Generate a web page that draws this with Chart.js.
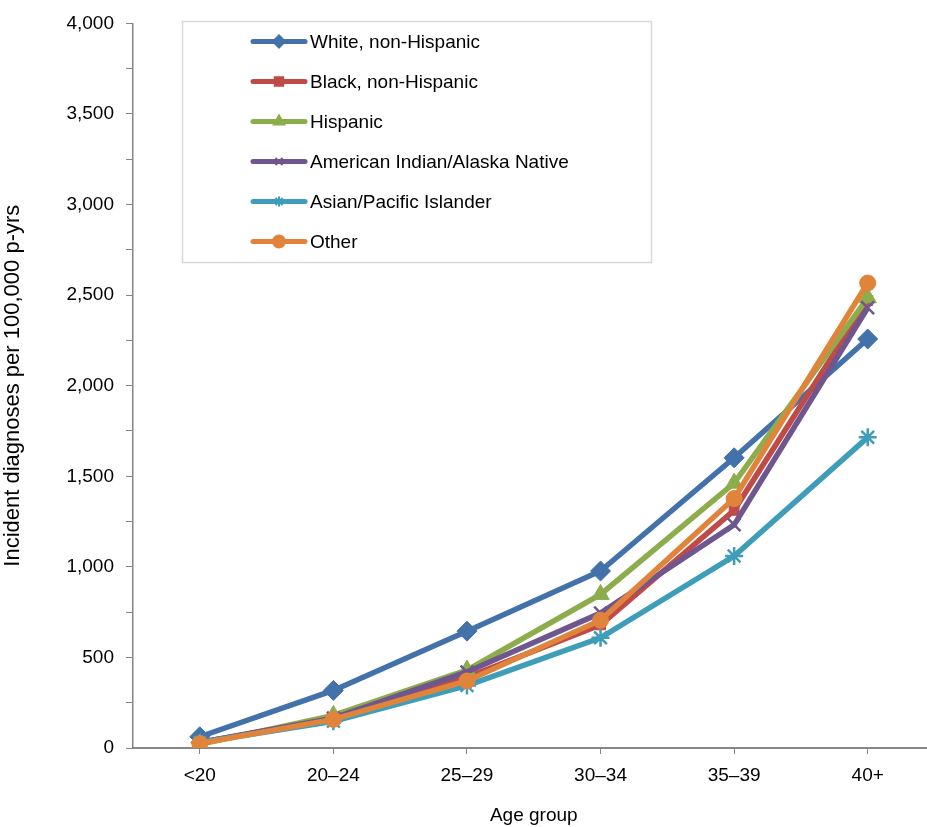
<!DOCTYPE html>
<html>
<head>
<meta charset="utf-8">
<script src="https://cdn.jsdelivr.net/npm/chart.js@4.4.0/dist/chart.umd.min.js"></script>
<style>
  html, body { margin: 0; padding: 0; overflow: hidden; background: #fff; }
  #wrap { width: 946px; height: 827px; }
</style>
</head>
<body>
<div id="wrap"><canvas id="myChart" width="946" height="827"></canvas></div>
<script>
'use strict';

let ageGroups = ['<20', '20–24', '25–29', '30–34', '35–39', '40+'];
let seriesNames = ['White, non-Hispanic', 'Black, non-Hispanic', 'Hispanic', 'American Indian/Alaska Native', 'Asian/Pacific Islander', 'Other'];

let white = [62, 318, 645, 977, 1602, 2258];
let black = [30, 160, 390, 680, 1312, 2470];
let hispanic = [20, 180, 430, 848, 1462, 2485];
let aian = [30, 165, 420, 745, 1232, 2430];
let api = [30, 148, 345, 608, 1060, 1715];
let other = [25, 158, 370, 705, 1377, 2567];

let yMin = 0;
let yMax = 4000;
let yStep = 250;

let colors = ['#4371A9', '#BE4B48', '#8DAC4B', '#70568F', '#3E9DB8', '#E1843B'];
let markers = ['rectRot', 'rect', 'triangle', 'crossRot', 'star', 'circle'];
let markerSize = [10, 7, 10, 9, 9, 8];
let legendMarkerSize = [6, 6, 6, 5, 5, 6];

let allSeries = [white, black, hispanic, aian, api, other];
let fontName = '"Liberation Sans", Arial, sans-serif';

let datasets = [];
for (let i = 0; i < allSeries.length; i++) {
    datasets.push({
        label: seriesNames[i],
        data: allSeries[i],
        borderColor: colors[i],
        backgroundColor: colors[i],
        borderWidth: 5.5,
        pointStyle: markers[i],
        pointRadius: markerSize[i],
        pointHoverRadius: markerSize[i],
        pointBorderWidth: (markers[i] === 'crossRot' || markers[i] === 'star') ? 2.5 : 1,
        tension: 0,
        order: allSeries.length - i
    });
}

// legend in a box, drawn by hand so line + marker samples look like the original
let boxLegend = {
    id: 'boxLegend',
    afterDraw(chart) {
        let ctx = chart.ctx;
        ctx.save();
        ctx.fillStyle = '#fff';
        ctx.fillRect(182, 21, 470, 242);
        ctx.strokeStyle = '#d9d9d9';
        ctx.lineWidth = 1.5;
        ctx.strokeRect(182.5, 21.5, 469, 241);
        chart.data.datasets.forEach((ds, i) => {
            let y = 41.5 + i * 40;
            ctx.strokeStyle = ds.borderColor;
            ctx.lineWidth = 5;
            ctx.lineCap = 'round';
            ctx.beginPath();
            ctx.moveTo(253, y);
            ctx.lineTo(305, y);
            ctx.stroke();
            ctx.fillStyle = ds.backgroundColor;
            ctx.lineWidth = 2;
            ctx.lineCap = 'butt';
            Chart.helpers.drawPoint(ctx, {
                pointStyle: ds.pointStyle,
                radius: legendMarkerSize[i],
                borderWidth: 2,
                rotation: 0
            }, 279, y);
            ctx.fillStyle = '#000';
            ctx.font = '19px ' + fontName;
            ctx.textBaseline = 'middle';
            ctx.textAlign = 'left';
            ctx.fillText(ds.label, 310, y + 1);
        });
        ctx.restore();
    }
};

let ctx = document.getElementById('myChart').getContext('2d');
let myChart = new Chart(ctx, {
    type: 'line',
    data: {
        labels: ageGroups,
        datasets: datasets
    },
    plugins: [boxLegend],
    options: {
        responsive: false,
        animation: false,
        layout: { padding: { top: 19, right: 2, left: 0, bottom: 0 } },
        plugins: {
            legend: { display: false },
            tooltip: { enabled: false }
        },
        scales: {
            x: {
                offset: true,
                grid: {
                    display: true,
                    offset: false,
                    drawOnChartArea: false,
                    drawTicks: true,
                    tickLength: 6,
                    color: '#868686'
                },
                border: { display: true, color: '#868686', width: 2 },
                ticks: {
                    color: '#000',
                    font: { family: fontName, size: 19 },
                    padding: 10,
                    maxRotation: 0
                },
                title: {
                    display: true,
                    text: 'Age group',
                    color: '#000',
                    font: { family: fontName, size: 19 },
                    padding: { top: 5, bottom: 0 }
                },
                afterFit(scale) { scale.height = 79; }
            },
            y: {
                min: yMin,
                max: yMax,
                grid: {
                    display: true,
                    drawOnChartArea: false,
                    drawTicks: true,
                    tickLength: 7,
                    color: '#868686'
                },
                border: { display: true, color: '#868686', width: 1.5 },
                ticks: {
                    stepSize: yStep,
                    autoSkip: false,
                    color: '#000',
                    font: { family: fontName, size: 19 },
                    padding: 12,
                    callback: function (value) {
                        return value % 500 === 0 ? value.toLocaleString('en-US') : '';
                    }
                },
                title: {
                    display: true,
                    text: 'Incident diagnoses per 100,000 p-yrs',
                    color: '#000',
                    font: { family: fontName, size: 22 },
                    padding: { top: 0, bottom: 0 }
                },
                afterFit(scale) { scale.width = 133; }
            }
        }
    }
});
</script>
</body>
</html>
